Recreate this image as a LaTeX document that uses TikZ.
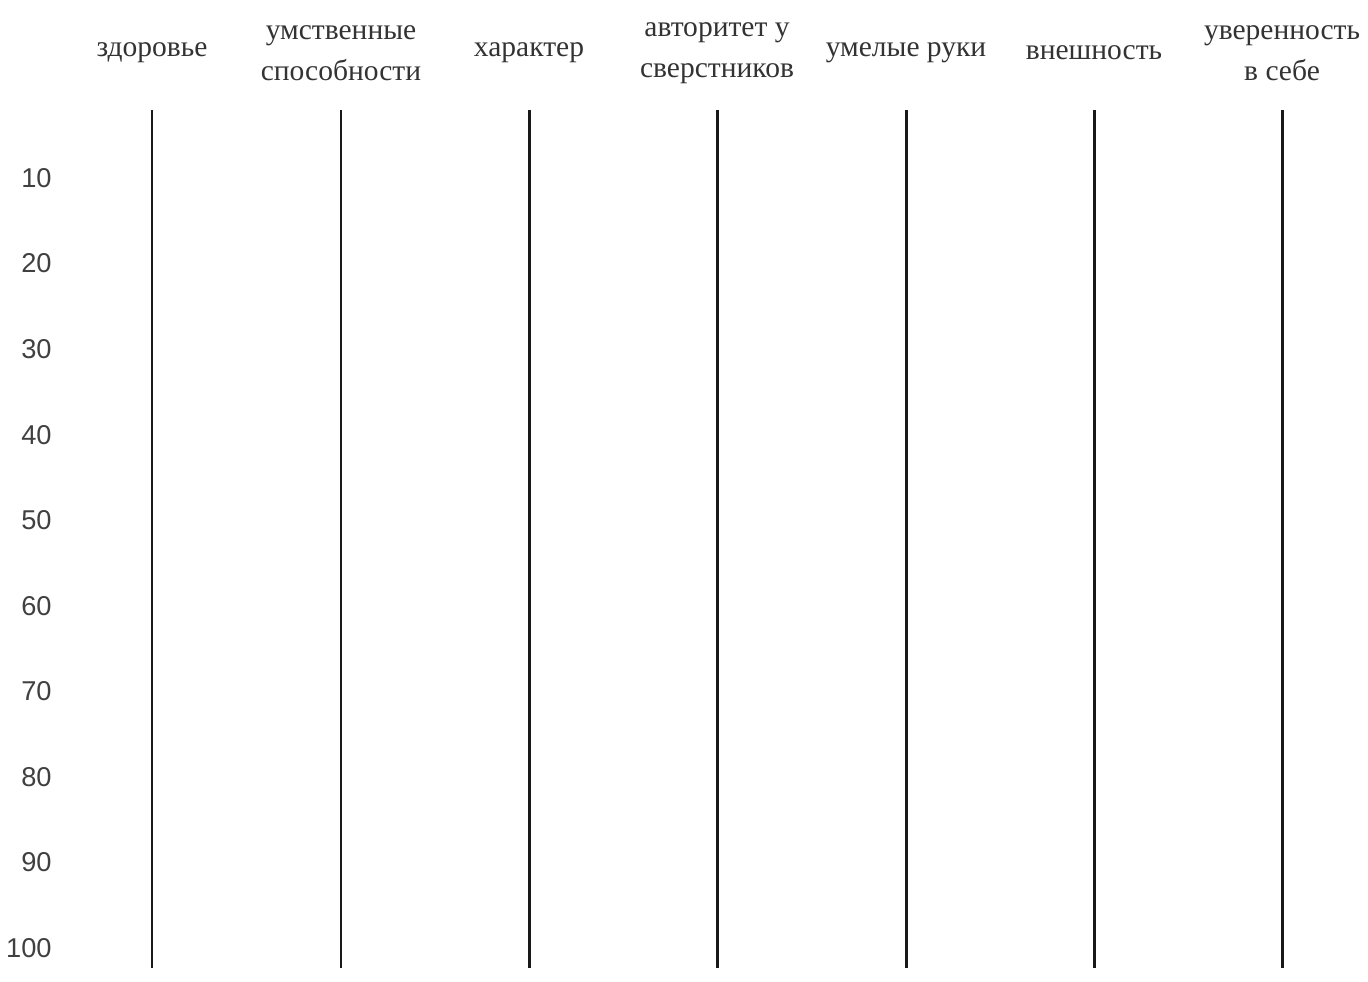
\documentclass[tikz,border=0pt]{standalone}
\usepackage{fontspec}
\setmainfont{Liberation Serif}
\newfontfamily\numfont{Liberation Sans}
\usetikzlibrary{positioning}

\begin{document}
\begin{tikzpicture}[x=0.02cm,y=-0.02cm,
  qualhead/.style={font=\fontsize{16.8}{23}\selectfont,text=black!80,
                   align=center,inner sep=0pt},
  scalenum/.style={font=\numfont\fontsize{15.5}{18}\selectfont,text=black!75,
                   anchor=east,inner sep=0pt},
  scaleline/.style={line width=1.7pt,black!90}]
  \useasboundingbox (0,0) rectangle (1368,982);

  % column headings and scale lines
  \foreach \i/\xx/\txt in {1/152/{здоровье},
                           2/341/{умственные\\способности},
                           3/529/{характер},
                           4/717/{авторитет у\\сверстников},
                           5/906/{умелые руки},
                           6/1094/{внешность},
                           7/1282/{уверенность\\в себе}} {
    \node[qualhead] (head\i) at (\xx,53) {\txt};
    \coordinate (top\i) at (\xx,110);
    \coordinate (bot\i) at (\xx,968);
    \draw[scaleline] (top\i) -- (bot\i);
  }

  % scale values on the left
  \foreach \v [count=\k] in {10,20,...,100}
    \node[scalenum] (num\k) at (52,{178+(\k-1)*85.55}) {\v};
\end{tikzpicture}
\end{document}
